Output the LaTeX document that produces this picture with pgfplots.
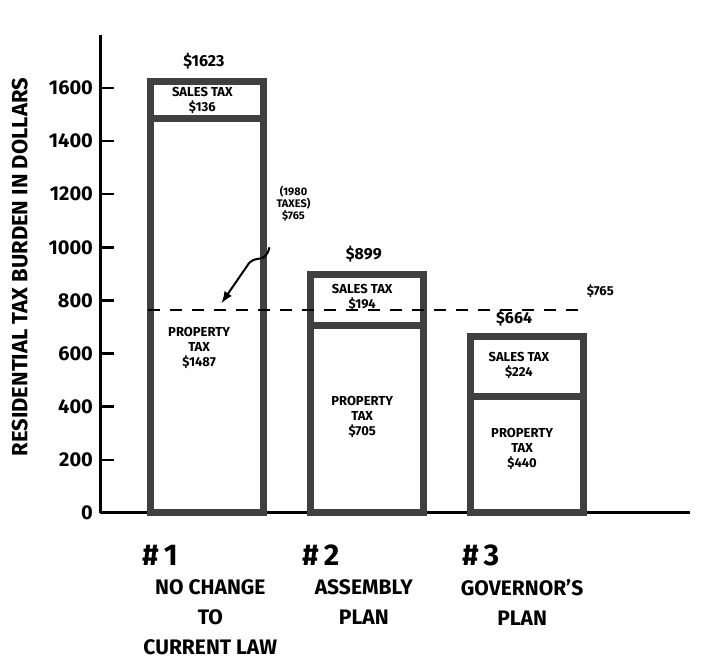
\documentclass[border=0pt]{standalone}
\usepackage{pgfplots}
\pgfplotsset{compat=1.18}
\usepackage{fontspec}
\setmainfont{Fira Sans}
\begin{document}
\begin{tikzpicture}
\begin{axis}[
 scale only axis, width=295pt, height=239pt,
 xmin=0.33, xmax=4.02, ymin=0, ymax=1800,
 axis x line*=bottom, axis y line*=left,
 axis line style={line width=1.5pt},
 ytick={0,200,...,1600},
 xtick=\empty,
 tick align=inside, major tick length=7pt,
 tick style={line width=1.2pt, black},
 yticklabel style={font=\fontsize{10}{12}\selectfont\bfseries},
 /pgf/number format/assume math mode=true,
 /pgf/number format/1000 sep={},
 ylabel={RESIDENTIAL TAX BURDEN IN DOLLARS},
 ylabel style={font=\fontsize{11}{13}\selectfont\bfseries, at={(axis description cs:-0.136,0.514)}, anchor=center},
 clip=false,
 every node/.style={font=\bfseries},
]
% total bars (sales + property)
\addplot[ybar, bar width=0.706, fill=white, draw=black!75, line width=3.5pt] coordinates {(1,1623) (2,899) (3,664)};
% property tax part
\addplot[ybar, bar width=0.706, fill=white, draw=black!75, line width=3.5pt] coordinates {(1,1487) (2,705) (3,440)};
% 1980 taxes reference
\addplot[black, line width=1pt, dash pattern=on 6pt off 5pt] coordinates {(0.63,765) (3.33,765)};

\coordinate (BL) at (rel axis cs:-0.1695,-0.3117);
\coordinate (TR) at (rel axis cs:1.022,1.073);

% totals
\node[font=\fontsize{8}{9}\selectfont\bfseries] at (axis cs:0.98,1700) {\$1623};
\node[font=\fontsize{8}{9}\selectfont\bfseries] at (axis cs:1.98,975) {\$899};
\node[font=\fontsize{8}{9}\selectfont\bfseries] at (axis cs:2.92,735) {\$664};
% sales tax
\node[align=center, font=\fontsize{6.5}{7.5}\selectfont\bfseries] at (axis cs:0.97,1555) {SALES TAX\\\$136};
\node[align=center, font=\fontsize{6.5}{7.5}\selectfont\bfseries] at (axis cs:1.97,812) {SALES TAX\\\$194};
\node[align=center, font=\fontsize{6.5}{7.5}\selectfont\bfseries] at (axis cs:2.95,555) {SALES TAX\\\$224};
% property tax
\node[align=center, font=\fontsize{6.5}{7.5}\selectfont\bfseries] at (axis cs:0.95,620) {PROPERTY\\TAX\\\$1487};
\node[align=center, font=\fontsize{6.5}{7.5}\selectfont\bfseries] at (axis cs:1.97,360) {PROPERTY\\TAX\\\$705};
\node[align=center, font=\fontsize{6.5}{7.5}\selectfont\bfseries] at (axis cs:2.97,240) {PROPERTY\\TAX\\\$440};
% 1980 annotation
\node[align=center, font=\fontsize{5.5}{6}\selectfont\bfseries] at (axis cs:1.54,1165) {(1980\\TAXES)\\\$765};
\draw[-latex, line width=1pt] (axis cs:1.39,1000) .. controls (axis cs:1.36,930) and (axis cs:1.3,980) .. (axis cs:1.25,930) -- (axis cs:1.09,790);
\node[font=\fontsize{6.5}{7.5}\selectfont\bfseries, anchor=west] at (axis cs:3.33,835) {\$765};

% category labels
\node[font=\fontsize{15}{16}\selectfont\bfseries, anchor=west] at (axis cs:0.55,-160) {\#\,1};
\node[align=center, font=\fontsize{10.5}{15}\selectfont\bfseries, anchor=north] at (axis cs:1.02,-225) {NO CHANGE\\TO\\CURRENT LAW};
\node[font=\fontsize{15}{16}\selectfont\bfseries, anchor=west] at (axis cs:1.55,-160) {\#\,2};
\node[align=center, font=\fontsize{10.5}{15}\selectfont\bfseries, anchor=north] at (axis cs:1.98,-225) {ASSEMBLY\\PLAN};
\node[font=\fontsize{15}{16}\selectfont\bfseries, anchor=west] at (axis cs:2.55,-160) {\#\,3};
\node[align=center, font=\fontsize{10.5}{15}\selectfont\bfseries, anchor=north] at (axis cs:2.97,-225) {GOVERNOR'S\\PLAN};
\end{axis}
\pgfresetboundingbox
\path (BL) rectangle (TR);
\end{tikzpicture}
\end{document}
